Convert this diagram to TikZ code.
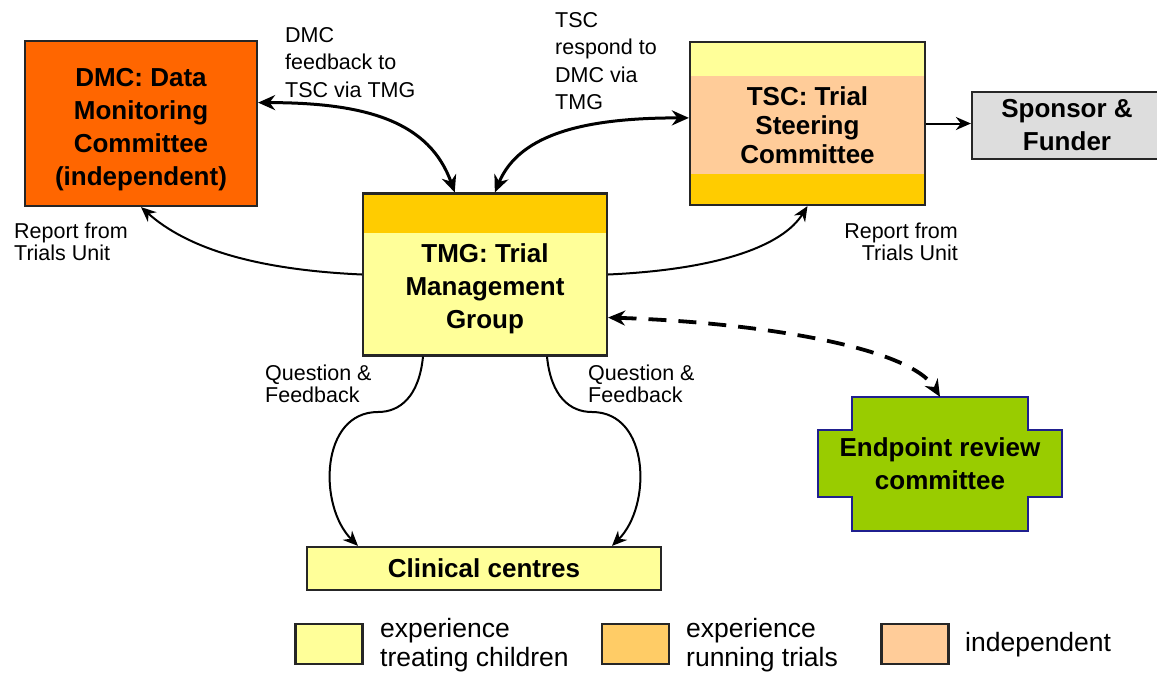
\documentclass[tikz,border=0pt]{standalone}
\usepackage{fontspec}
\setmainfont{Liberation Sans}
\usetikzlibrary{positioning,calc,arrows.meta}

\definecolor{dmcorange}{HTML}{FF6600}
\definecolor{lightyellow}{HTML}{FFFF99}
\definecolor{peach}{HTML}{FFCC99}
\definecolor{gold}{HTML}{FFCC00}
\definecolor{trialorange}{HTML}{FFCC66}
\definecolor{sponsorgrey}{HTML}{DDDDDD}
\definecolor{endgreen}{HTML}{99CC00}
\definecolor{endnavy}{HTML}{1F1F8F}

\tikzset{
  heading/.style={align=center, inner sep=0pt, font=\bfseries\fontsize{26}{33}\selectfont},
  box/.style={heading, draw=black!85, line width=2.2pt},
  lbl/.style={align=left, inner sep=0pt, font=\fontsize{21.5}{27.5}\selectfont},
  smalllbl/.style={inner sep=0pt, font=\fontsize{21.5}{22}\selectfont},
  keylbl/.style={align=left, inner sep=0pt, font=\fontsize{26.5}{29}\selectfont},
  flow/.style={line width=2pt, -{Stealth[length=15pt,width=13pt]}},
  twoway/.style={line width=3pt, {Stealth[length=17pt,width=15pt]}-{Stealth[length=17pt,width=15pt]}},
  swatch/.style={draw=black!85, line width=2.2pt, minimum width=67pt, minimum height=40pt, inner sep=0pt},
}

\begin{document}
\begin{tikzpicture}[x=1pt, y=-1pt]
    \useasboundingbox (0,0) rectangle (1157,673);

    % committees
    \node[box, fill=dmcorange, minimum width=232pt, minimum height=165pt] (dmc) at (141,123.5) {};
    \node[heading] (dmctext) at (141,130) {DMC: Data\\Monitoring\\Committee\\(independent)};
    \node[box, fill=peach, minimum width=235pt, minimum height=163pt, path picture={
        \fill[lightyellow] (path picture bounding box.north west) rectangle ([yshift=-34pt]path picture bounding box.north east);
        \fill[gold] (path picture bounding box.south west) rectangle ([yshift=31pt]path picture bounding box.south east);}] (tsc) at (807.5,123.5) {};
    \node[heading, font=\bfseries\fontsize{26}{29}\selectfont] (tsctext) at (807.5,125) {TSC: Trial\\Steering\\Committee};
    \node[box, fill=sponsorgrey, minimum width=190pt, minimum height=67pt] (sponsor) at (1067,125.5) {Sponsor \&\\Funder};
    \node[box, fill=lightyellow, minimum width=244pt, minimum height=162pt, path picture={
        \fill[gold] (path picture bounding box.north west) rectangle ([yshift=-39pt]path picture bounding box.north east);}] (tmg) at (485,274.5) {};
    \node[heading] (tmgtext) at (485,289) {TMG: Trial\\Management\\Group};
    \node[box, fill=lightyellow, minimum width=354pt, minimum height=43pt] (clin) at (484,568.5) {Clinical centres};

    % endpoint review committee
    \draw[draw=endnavy, fill=endgreen, line width=2pt] (852,397) -- (1028,397) -- (1028,430) -- (1062,430) -- (1062,497) -- (1028,497) -- (1028,531) -- (852,531) -- (852,497) -- (818,497) -- (818,430) -- (852,430) -- cycle;
    \node[heading, minimum height=134pt] (erc) at (940,464) {Endpoint review\\committee};

    % labels (anchored on the last line)
    \node[lbl, anchor=base west] (dmcfb) at (285,97) {DMC\\feedback to\\TSC via TMG};
    \node[lbl, anchor=base west] (tscresp) at (555,109.5) {TSC\\respond to\\DMC via\\TMG};
    \node[smalllbl, align=left, anchor=base west] (repleft) at (14,260) {Report from\\Trials Unit};
    \node[smalllbl, align=right, anchor=base east] (repright) at (958,260) {Report from\\Trials Unit};
    \node[smalllbl, align=left, anchor=base west] (qfleft) at (265,402) {Question \&\\Feedback};
    \node[smalllbl, align=left, anchor=base west] (qfright) at (588,402) {Question \&\\Feedback};

    % connectors
    \draw[twoway] ($(dmc.north east)!0.375!(dmc.south east)$) .. controls +(110,0) and +(-25,-70) .. ($(tmg.north west)!0.377!(tmg.north east)$);
    \draw[twoway] ($(tmg.north west)!0.54!(tmg.north east)$) .. controls +(25,-60) and +(-100,0) .. ($(tsc.north west)!0.466!(tsc.south west)$);
    \draw[flow] (tmg.west) .. controls +(-110,-5) and +(45,40) .. (dmc.south);
    \draw[flow] (tmg.east) .. controls +(110,-5) and +(-25,40) .. (tsc.south);
    \draw[flow] (tsc.east) -- (tsc.east -| sponsor.west);
    \draw[twoway, line width=3.8pt, dash pattern=on 18pt off 12pt] ([yshift=-43pt]tmg.east) .. controls +(150,5) and +(-30,-50) .. (erc.north);
    \draw[flow] ([xshift=-62pt]tmg.south) .. controls +(-4,40) and +(22,0) .. (378,412) .. controls +(-58,0) and +(-40,-40) .. ([xshift=-126pt]clin.north);
    \draw[flow] ([xshift=62pt]tmg.south) .. controls +(4,40) and +(-22,0) .. (592,412) .. controls +(58,0) and +(40,-40) .. ([xshift=128pt]clin.north);

    % key
    \node[swatch, fill=lightyellow] (keya) at (329,644) {};
    \node[keylbl, anchor=base west] (keyatext) at (380,666) {experience\\treating children};
    \node[swatch, fill=trialorange] (keyb) at (635.5,644) {};
    \node[keylbl, anchor=base west] (keybtext) at (686,666) {experience\\running trials};
    \node[swatch, fill=peach] (keyc) at (915,644) {};
    \node[keylbl, anchor=base west] (keyctext) at (965,651) {independent};
\end{tikzpicture}
\end{document}
